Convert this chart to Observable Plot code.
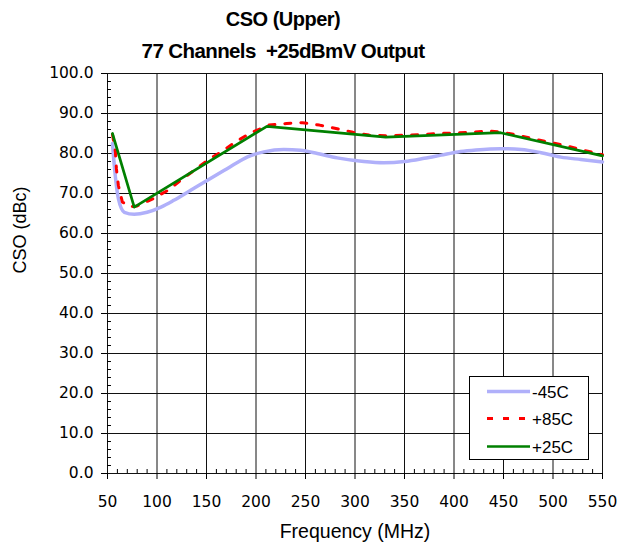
<!DOCTYPE html>
<html>
<head>
<meta charset="utf-8">
<script src="https://cdn.jsdelivr.net/npm/d3@7"></script>
<script src="https://cdn.jsdelivr.net/npm/@observablehq/plot@0.6"></script>
<style>
  html, body { margin: 0; padding: 0; background: #fff; }
  #wrap { position: relative; width: 621px; height: 546px; overflow: hidden; }
  #title { position: relative; width: 621px; height: 60px; font-family: "Liberation Sans", Arial, sans-serif; font-weight: bold; color: #000; }
  #title .l1 { position: absolute; left: 0; width: 566px; text-align: center; top: 8px; font-size: 20px; letter-spacing: -0.5px; white-space: pre; }
  #title .l2 { position: absolute; left: 0; width: 566px; text-align: center; top: 39px; font-size: 20.5px; letter-spacing: -0.6px; white-space: pre; }
  #legend { position: absolute; left: 469px; top: 376px; width: 120px; height: 84px; border: 1px solid #000; background: #fff; box-sizing: border-box; }
  #legend svg { position: absolute; left: 0; top: 0; }
  svg { display: block; }
</style>
</head>
<body>
<div id="wrap">
  <div id="title"><div class="l1">CSO (Upper)</div><div class="l2">77 Channels  +25dBmV Output</div></div>
  <div id="chart"></div>
  <div id="legend"></div>
</div>
<script>
// ---- data ----
const xTicks = [50, 100, 150, 200, 250, 300, 350, 400, 450, 500, 550];
const yTicks = [0, 10, 20, 30, 40, 50, 60, 70, 80, 90, 100];
const xMinor = d3.range(50, 551, 10).filter(v => v % 50 !== 0);
const yMinor = d3.range(0, 101, 2).filter(v => v % 10 !== 0);

const seriesNames = ["-45C", "+85C", "+25C"];

const freqM45 = [55, 58, 61, 67, 77, 90, 104, 117, 134, 151, 168, 185, 191, 208, 228, 245, 262, 282, 309, 329, 350, 370, 387, 404, 420, 447, 468, 488, 508, 528, 550];
const csoM45  = [82.5, 74.1, 68.7, 65.3, 64.8, 65.3, 66.6, 68.3, 70.8, 73.3, 75.8, 78.3, 79.1, 80.4, 81.0, 80.8, 80.0, 78.9, 78.0, 77.7, 78.0, 78.8, 79.6, 80.4, 80.8, 81.2, 81.0, 80.2, 79.1, 78.5, 77.9];

const freqP85 = [55, 58, 59, 61, 65, 72, 80, 96, 111, 124, 151, 166, 180, 195, 213, 231, 247, 264, 282, 298, 314, 332, 366, 383, 400, 417, 434, 447, 464, 481, 499, 515, 531, 550];
const csoP85  = [84.8, 80.4, 76.2, 72.0, 67.9, 66.7, 66.9, 68.7, 70.8, 73.3, 78.3, 80.6, 83.0, 85.2, 87.1, 87.5, 87.7, 87.1, 86.2, 85.3, 84.6, 84.4, 84.7, 85.0, 85.1, 85.3, 85.6, 85.4, 84.6, 83.6, 82.7, 81.8, 80.8, 79.7];

const freqP25 = [55, 77, 211, 331, 447, 550];
const csoP25  = [85.0, 66.6, 86.8, 84.1, 85.2, 79.4];

const colors = ["#b0b0fa", "#ff0000", "#008000"];

const toRows = (f, v) => f.map((x, i) => ({f: x, v: v[i]}));

const tickFont = "'DejaVu Sans', Verdana, sans-serif";
const labelFont = "'Liberation Sans', Arial, sans-serif";

const chart = Plot.plot({
  width: 621,
  height: 486,
  marginLeft: 107,
  marginRight: 19,
  marginTop: 13,
  marginBottom: 73,
  style: {fontFamily: tickFont, fontSize: "15.5px", color: "#000", background: "transparent", overflow: "visible"},
  x: {domain: [50, 550], ticks: xTicks, label: null},
  y: {domain: [0, 100], ticks: yTicks, label: null},
  marks: [
    Plot.ruleX(xTicks, {stroke: "#111", strokeWidth: 1}),
    Plot.ruleY(yTicks, {stroke: "#111", strokeWidth: 1}),
    Plot.ruleX(xMinor, {x: d => d, y1: 0, y2: 1, stroke: "#000"}),
    Plot.ruleY(yMinor, {y: d => d, x1: 50, x2: 54, stroke: "#000"}),
    Plot.axisX({ticks: xTicks, tickSize: 6, tickPadding: 16, tickFormat: d => String(d), label: null, fontSize: 15.5}),
    Plot.axisY({ticks: yTicks, tickSize: 6, tickPadding: 8, tickFormat: d => d.toFixed(1), label: null, fontSize: 15.5}),
    Plot.line(toRows(freqM45, csoM45), {x: "f", y: "v", stroke: colors[0], strokeWidth: 3.5, curve: "monotone-x"}),
    Plot.line(toRows(freqP85, csoP85), {x: "f", y: "v", stroke: colors[1], strokeWidth: 3, strokeDasharray: "6,10", curve: "linear"}),
    Plot.line(toRows(freqP25, csoP25), {x: "f", y: "v", stroke: colors[2], strokeWidth: 2.7}),
    Plot.text(["Frequency (MHz)"], {frameAnchor: "bottom", dy: 58, fontFamily: labelFont, fontSize: 19.5, lineAnchor: "middle", fill: "#000"}),
    Plot.text(["CSO (dBc)"], {frameAnchor: "left", dx: -87, rotate: -90, fontFamily: labelFont, fontSize: 18, lineAnchor: "middle", fill: "#000"})
  ]
});
document.getElementById("chart").appendChild(chart);

// legend
const lg = d3.select("#legend").append("svg").attr("width", 120).attr("height", 84);
const rowsY = [14.5, 41.5, 69.5];
seriesNames.forEach((name, i) => {
  const line = lg.append("line")
    .attr("x1", 17).attr("x2", 60)
    .attr("y1", rowsY[i]).attr("y2", rowsY[i])
    .attr("stroke", colors[i])
    .attr("stroke-width", i === 0 ? 3.5 : (i === 1 ? 3 : 2.7));
  if (i === 1) line.attr("stroke-dasharray", "6,10");
  lg.append("text")
    .attr("x", 62).attr("y", rowsY[i])
    .attr("dy", "0.36em")
    .attr("font-family", labelFont)
    .attr("font-size", 17)
    .attr("fill", "#000")
    .text(name);
});
</script>
</body>
</html>
